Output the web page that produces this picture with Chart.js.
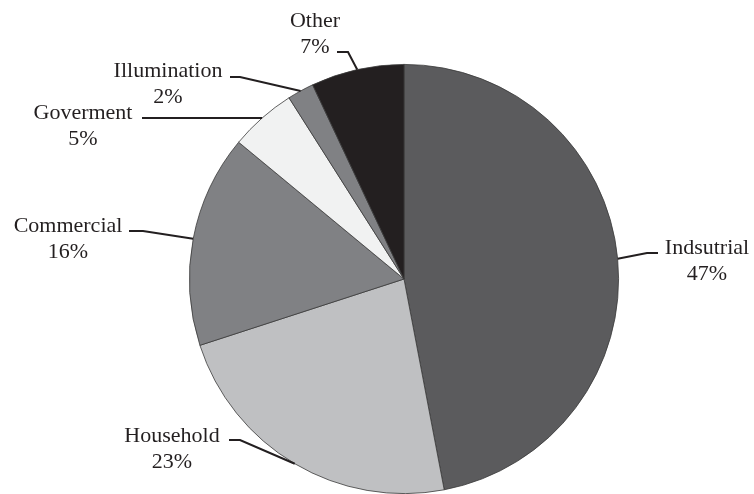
<!DOCTYPE html>
<html lang="en">
<head>
    <meta charset="UTF-8">
    <title>Energy Consumption by Sector</title>
    <style>
        html, body { margin: 0; padding: 0; background: #fff; }
        .wrap { width: 754px; height: 494px; position: relative; }
    </style>
</head>
<body>
    <div class="wrap"><canvas id="pieChart"></canvas></div>
    <script src="https://cdn.jsdelivr.net/npm/chart.js"></script>
    <script>
        // Data
        const sectors = ['Indsutrial', 'Household', 'Commercial', 'Goverment', 'Illumination', 'Other'];
        const shares = [47, 23, 16, 5, 2, 7];
        const sliceColors = ['#5b5b5d', '#bfc0c2', '#808184', '#f1f2f2', '#808184', '#231f20'];

        // where each label sits: text centre x, first baseline, and the leader's elbow / end
        const labelLayout = [
            { x: 707, y: 254, elbow: [647, 253], end: [658, 253] },
            { x: 172, y: 442, elbow: [240, 440], end: [229, 440] },
            { x: 68,  y: 232, elbow: [143, 231], end: [129, 231] },
            { x: 83,  y: 119, elbow: [150, 118], end: [142, 118] },
            { x: 168, y: 77,  elbow: [240, 77],  end: [230, 77] },
            { x: 315, y: 27,  elbow: [348, 52],  end: [337, 52] }
        ];

        const calloutPlugin = {
            id: 'callouts',
            afterDatasetsDraw(chart) {
                const ctx = chart.ctx;
                const meta = chart.getDatasetMeta(0);
                ctx.save();
                ctx.font = '22px "Liberation Serif", serif';
                ctx.fillStyle = '#231f20';
                ctx.strokeStyle = '#231f20';
                ctx.lineWidth = 2;
                ctx.textAlign = 'center';
                ctx.textBaseline = 'alphabetic';
                meta.data.forEach((arc, i) => {
                    const p = arc.getProps(['x', 'y', 'startAngle', 'endAngle', 'outerRadius'], true);
                    const mid = (p.startAngle + p.endAngle) / 2;
                    const ex = p.x + Math.cos(mid) * p.outerRadius;
                    const ey = p.y + Math.sin(mid) * p.outerRadius;
                    const lay = labelLayout[i];
                    ctx.beginPath();
                    ctx.moveTo(ex, ey);
                    ctx.lineTo(lay.elbow[0], lay.elbow[1]);
                    ctx.lineTo(lay.end[0], lay.end[1]);
                    ctx.stroke();
                    ctx.fillText(sectors[i], lay.x, lay.y);
                    ctx.fillText(shares[i] + '%', lay.x, lay.y + 26);
                });
                ctx.restore();
            }
        };

        new Chart(document.getElementById('pieChart'), {
            type: 'pie',
            data: {
                labels: sectors,
                datasets: [{
                    data: shares,
                    backgroundColor: sliceColors,
                    borderColor: '#3a3a3a',
                    borderWidth: 0.8
                }]
            },
            options: {
                responsive: true,
                maintainAspectRatio: false,
                animation: false,
                layout: { padding: { left: 189, right: 135, top: 64, bottom: 0 } },
                plugins: {
                    legend: { display: false },
                    tooltip: { enabled: false }
                }
            },
            plugins: [calloutPlugin]
        });
    </script>
</body>
</html>
